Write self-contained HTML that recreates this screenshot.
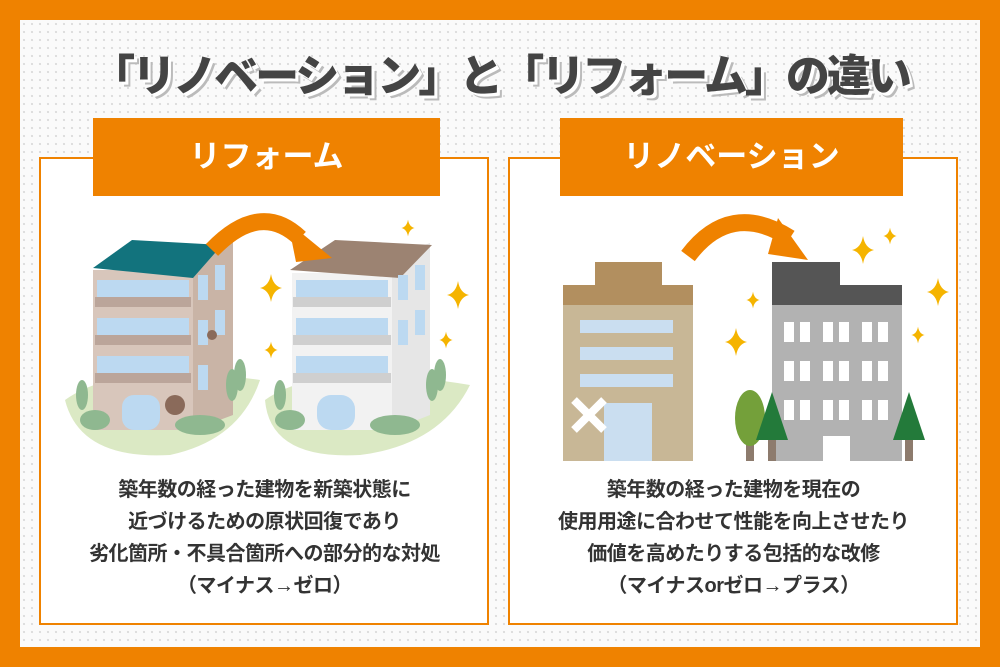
<!DOCTYPE html>
<html><head><meta charset="utf-8"><style>
html,body{margin:0;padding:0}
body{width:1000px;height:667px;position:relative;overflow:hidden;background:#ef8200;font-family:"Liberation Sans","Noto Sans CJK JP",sans-serif}
.inner{position:absolute;left:20px;top:20px;width:960px;height:627px;background-color:#fafafa;background-image:radial-gradient(#dcdcdc 1px,transparent 1.3px);background-size:8px 8px}
.title{position:absolute;left:0;top:40px;width:1000px;text-align:center;font-size:44px;font-weight:900;color:#444;letter-spacing:-3px;text-shadow:3px 3px 0 #fff,5px 5px 0 #bbb}
.panel{position:absolute;top:157px;width:446px;height:464px;background:#fff;border:2.5px solid #ef8200}
.label{position:absolute;top:118px;height:78px;background:#ef8200;color:#fff;font-size:31px;font-weight:bold;text-align:center;line-height:78px;letter-spacing:0px}
.txt{position:absolute;top:474px;text-align:center;font-size:20px;line-height:32px;color:#333;font-weight:bold;letter-spacing:-0.5px}
svg{position:absolute;left:0;top:0}
</style></head><body>
<div class="inner"></div>
<div class="title">「リノベーション」と「リフォーム」の違い</div>
<div class="panel" style="left:39px"></div>
<div class="panel" style="left:508px"></div>
<div class="label" style="left:93px;width:347px">リフォーム</div>
<div class="label" style="left:560px;width:343px">リノベーション</div>
<svg width="1000" height="667" viewBox="0 0 1000 667">
<defs><path id="sp" d="M0,-14 Q2,-2 11,0 Q2,2 0,14 Q-2,2 -11,0 Q-2,-2 0,-14Z" fill="#f5b400"/></defs>
<path d="M65,400 Q120,360 260,380 Q240,440 170,455 Q80,460 65,400Z" fill="#dbe9c4"/>
<path d="M265,400 Q320,360 470,385 Q440,445 360,455 Q270,460 265,400Z" fill="#dbe9c4"/>
<polygon points="193,255 233,240 233,415 193,430" fill="#c9b4a6"/>
<rect x="93" y="270" width="100" height="160" fill="#d8c6bb"/>
<polygon points="93,268 132,240 222,245 193,278" fill="#12737d"/>
<g fill="#bcd9f1"><rect x="97" y="280" width="92" height="18"/><rect x="97" y="318" width="92" height="18"/><rect x="97" y="356" width="92" height="18"/>
<rect x="198" y="275" width="10" height="25"/><rect x="215" y="265" width="10" height="25"/><rect x="198" y="320" width="10" height="25"/><rect x="215" y="310" width="10" height="25"/><rect x="198" y="365" width="10" height="25"/>
<rect x="122" y="395" width="38" height="35" rx="12"/></g>
<g fill="#bba59a"><rect x="95" y="297" width="96" height="10"/><rect x="95" y="335" width="96" height="10"/><rect x="95" y="373" width="96" height="10"/></g>
<circle cx="175" cy="405" r="10" fill="#8a6a5a"/><circle cx="212" cy="335" r="5" fill="#8a6a5a"/>
<g fill="#8fb890"><ellipse cx="82" cy="395" rx="6" ry="15"/><ellipse cx="95" cy="420" rx="15" ry="10"/><ellipse cx="200" cy="425" rx="25" ry="10"/><ellipse cx="232" cy="385" rx="6" ry="16"/><ellipse cx="240" cy="375" rx="6" ry="16"/></g>
<polygon points="392,257 430,243 430,415 392,430" fill="#e6e6e6"/>
<rect x="292" y="273" width="100" height="157" fill="#f2f2f2"/>
<polygon points="290,270 335,240 432,245 400,278" fill="#9c8372"/>
<g fill="#bcd9f1"><rect x="296" y="280" width="92" height="18"/><rect x="296" y="318" width="92" height="18"/><rect x="296" y="356" width="92" height="18"/>
<rect x="398" y="275" width="10" height="25"/><rect x="415" y="265" width="10" height="25"/><rect x="398" y="320" width="10" height="25"/><rect x="415" y="310" width="10" height="25"/>
<rect x="317" y="395" width="38" height="35" rx="14"/></g>
<g fill="#cfcfcf"><rect x="293" y="297" width="98" height="10"/><rect x="293" y="335" width="98" height="10"/><rect x="293" y="373" width="98" height="10"/></g>
<g fill="#8fb890"><ellipse cx="280" cy="395" rx="6" ry="15"/><ellipse cx="290" cy="420" rx="15" ry="10"/><ellipse cx="395" cy="425" rx="25" ry="10"/><ellipse cx="432" cy="385" rx="6" ry="16"/><ellipse cx="440" cy="375" rx="6" ry="16"/></g>
<path d="M212,250 Q260,200 300,238" fill="none" stroke="#ef8200" stroke-width="17"/>
<polygon points="288,222 332,258 296,262" fill="#ef8200"/>
<use href="#sp" transform="translate(271,288)"/><use href="#sp" transform="translate(271,350) scale(.6)"/><use href="#sp" transform="translate(458,295)"/><use href="#sp" transform="translate(446,340) scale(.6)"/><use href="#sp" transform="translate(408,228) scale(.6)"/>
<rect x="595" y="262" width="67" height="25" fill="#b28f5f"/>
<rect x="563" y="285" width="130" height="20" fill="#b28f5f"/>
<rect x="563" y="305" width="130" height="156" fill="#c8b796"/>
<g fill="#cadef0"><rect x="580" y="320" width="93" height="13"/><rect x="580" y="347" width="93" height="13"/><rect x="580" y="374" width="93" height="13"/><rect x="604" y="403" width="48" height="58"/></g>
<path d="M574,400 L604,430 M604,400 L574,430" stroke="#fff" stroke-width="8"/>
<rect x="772" y="262" width="68" height="30" fill="#555"/>
<rect x="772" y="285" width="130" height="20" fill="#555"/>
<rect x="772" y="305" width="130" height="156" fill="#b2b2b2"/>
<g fill="#fff">
<rect x="784" y="322" width="10" height="20"/><rect x="800" y="322" width="10" height="20"/><rect x="823" y="322" width="10" height="20"/><rect x="839" y="322" width="10" height="20"/><rect x="862" y="322" width="10" height="20"/><rect x="878" y="322" width="10" height="20"/>
<rect x="784" y="361" width="10" height="20"/><rect x="800" y="361" width="10" height="20"/><rect x="823" y="361" width="10" height="20"/><rect x="839" y="361" width="10" height="20"/><rect x="862" y="361" width="10" height="20"/><rect x="878" y="361" width="10" height="20"/>
<rect x="784" y="400" width="10" height="20"/><rect x="800" y="400" width="10" height="20"/><rect x="823" y="400" width="10" height="20"/><rect x="839" y="400" width="10" height="20"/><rect x="862" y="400" width="10" height="20"/><rect x="878" y="400" width="10" height="20"/>
<rect x="823" y="436" width="27" height="25"/></g>
<rect x="746" y="420" width="8" height="41" fill="#8d7b6d"/><ellipse cx="750" cy="418" rx="15" ry="28" fill="#74a03a"/>
<rect x="768" y="430" width="8" height="31" fill="#8d7b6d"/><polygon points="772,392 756,440 788,440" fill="#237a3a"/>
<rect x="905" y="430" width="8" height="31" fill="#8d7b6d"/><polygon points="909,392 893,440 925,440" fill="#237a3a"/>
<path d="M688,256 Q730,200 790,238" fill="none" stroke="#ef8200" stroke-width="17"/>
<polygon points="778,218 808,260 768,254" fill="#ef8200"/>
<use href="#sp" transform="translate(863,250)"/><use href="#sp" transform="translate(890,236) scale(.6)"/><use href="#sp" transform="translate(753,300) scale(.6)"/><use href="#sp" transform="translate(736,342)"/><use href="#sp" transform="translate(938,292)"/><use href="#sp" transform="translate(918,335) scale(.6)"/>
</svg>
<div class="txt" style="left:39px;width:451px">築年数の経った建物を新築状態に<br>近づけるための原状回復であり<br>劣化箇所・不具合箇所への部分的な対処<br>（マイナス→ゼロ）</div>
<div class="txt" style="left:508px;width:451px">築年数の経った建物を現在の<br>使用用途に合わせて性能を向上させたり<br>価値を高めたりする包括的な改修<br>（マイナスorゼロ→プラス）</div>
</body></html>
